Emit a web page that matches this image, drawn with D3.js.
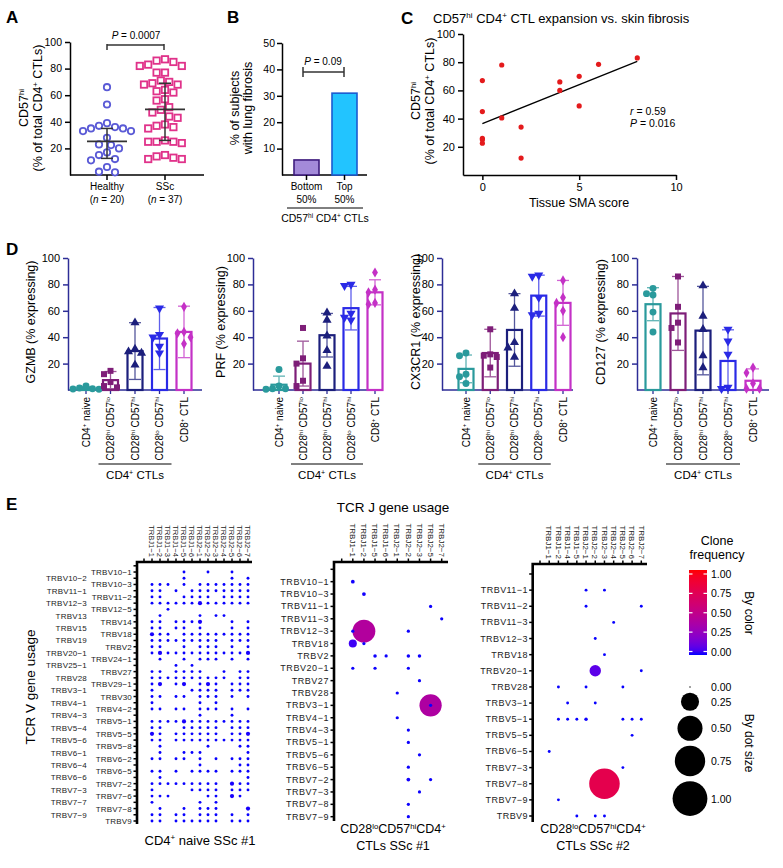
<!DOCTYPE html>
<html><head><meta charset="utf-8">
<script src="https://cdn.jsdelivr.net/npm/d3@7"></script>
<style>
body{margin:0;background:#fff}
svg{font-family:"Liberation Sans",Arial,Helvetica,sans-serif}
svg text{white-space:pre}
</style>
</head><body>
<svg id="fig" width="783" height="868"></svg>
<script>
// ================= DATA =================
// Panel A
const panelAGroups = ["Healthy", "SSc"];
const panelAN = [20, 37];
const healthyValues = [66, 53, 39, 37, 36, 35, 35, 33, 33, 28, 23, 22.5, 20, 17, 15, 12, 11, 6, 2.5, 2];
const sscValues = [87, 86, 85, 83, 82, 82, 77, 77, 71, 70, 69, 68, 68, 64, 63, 62, 57, 56, 51, 49, 47, 44, 43, 38, 37, 36, 35, 26, 25, 25, 25, 24, 15, 14, 13, 12, 12];
const panelAMedian = [25.3, 49.3];
const panelAQ1 = [12.5, 26];
const panelAQ3 = [35, 69];
const panelATicks = [20, 40, 60, 80, 100];
const panelAP = "0.0007";

// Panel B
const lungGroups = ["Bottom", "Top"];
const lungPct = [5.7, 31];
const lungTicks = [10, 20, 30, 40, 50];
const panelBP = "0.09";

// Panel C
const smaScore = [0, 0, 0, 0, 0, 1, 1, 2, 2, 4, 4, 5, 5, 6, 8];
const cd57Pct = [67, 45, 26, 25, 22.5, 78, 40.5, 34, 12, 66, 60, 70, 49, 78.5, 83];
const panelCxTicks = [0, 5, 10];
const panelCyTicks = [20, 40, 60, 80, 100];
const panelCr = "0.59", panelCP = "0.016";

// Panel D
const cellTypes = ["CD4^{+} naive", "CD28^{hi} CD57^{lo}", "CD28^{hi} CD57^{hi}", "CD28^{lo} CD57^{hi}", "CD8^{+} CTL"];
const gzmbMean = [1.5, 7.5, 29.5, 39, 44];
const gzmbSD = [1, 6.5, 21.5, 23.5, 19.5];
const gzmbPts = [[3, 1.5, 1, 0.8, 0.5], [14.5, 12, 6, 3, 2], [51, 31, 29, 28, 19], [62, 42, 40, 33, 28], [63, 44, 43, 40, 35]];
const prfMean = [4, 20, 41.5, 62, 74];
const prfSD = [6.5, 17, 16.5, 16.5, 9.5];
const prfPts = [[15.5, 3, 1, 1, 0.5], [47, 24, 20, 7, 3], [58.5, 53, 41, 30, 18], [80, 79, 58, 55, 53], [89, 76, 74, 66, 65]];
const cx3cr1Mean = [16, 28, 45.5, 71.5, 66];
const cx3cr1SD = [10.5, 18, 27.5, 15.5, 17];
const cx3cr1Pts = [[28, 26, 12, 10, 5], [46, 27, 26, 25, 17], [73, 62, 36, 32, 25], [87, 86, 70, 58, 57], [83, 70, 66, 60, 40]];
const cd127Mean = [65, 58, 45, 22, 7];
const cd127SD = [12.5, 28, 33.5, 23.6, 9];
const cd127Pts = [[77, 73, 72, 59, 44], [86, 63, 51, 47, 36], [79, 56, 46, 26, 17], [46, 37, 27, 2, 1], [17, 13, 5, 1, 1]];
const panelDTicks = [20, 40, 60, 80, 100];

// Panel E
const naiveRows = ["TRBV10-1","TRBV10-2","TRBV10-3","TRBV11-1","TRBV11-2","TRBV12-3","TRBV12-5","TRBV13","TRBV14","TRBV15","TRBV18","TRBV19","TRBV2","TRBV20-1","TRBV24-1","TRBV25-1","TRBV27","TRBV28","TRBV29-1","TRBV3-1","TRBV30","TRBV4-1","TRBV4-2","TRBV4-3","TRBV5-1","TRBV5-4","TRBV5-5","TRBV5-6","TRBV5-8","TRBV6-1","TRBV6-2","TRBV6-4","TRBV6-5","TRBV6-6","TRBV7-2","TRBV7-3","TRBV7-6","TRBV7-7","TRBV7-8","TRBV7-9","TRBV9"];
const naiveCols = ["TRBJ1-1","TRBJ1-2","TRBJ1-3","TRBJ1-4","TRBJ1-5","TRBJ1-6","TRBJ2-1","TRBJ2-2","TRBJ2-3","TRBJ2-4","TRBJ2-5","TRBJ2-6","TRBJ2-7"];
// one string per V row, one char per J column: "." none, "o" small clone, "O" larger clone
const naiveGrid = [
  "....o..o..o..",
  "....o.....o.o",
  "ooo.o.ooooooo",
  "oo.o.oooooooo",
  "oo..oooo.oooo",
  "ooooooOoooooo",
  "..o..........",
  ".o....o.oo...",
  "oo.oooO...o.o",
  "oo.oo.o...o.o",
  "Ooo.ooooooooo",
  "ooooooooo.ooo",
  "oo..o.ooo.o.o",
  "oOooooooooooO",
  ".o..o.ooo.o.o",
  "...o.o.......",
  "oo.oooo..o.oo",
  "oooooooooo.oo",
  "oO.oO.oOo.ooo",
  "o....oooo.ooo",
  "oo.oo.ooo.o.o",
  "o.....o.o....",
  "oo.oo.ooo.o.o",
  "......o...o..",
  "ooooOoooooooo",
  "oo..ooooo.ooo",
  "Oo.oooooo.ooO",
  "oo.oooooooooo",
  ".o.....o...oo",
  ".o..ooo.....o",
  "oo.oo.o.o.ooo",
  "......o....oo",
  "oo.o.oooo.ooo",
  ".o..........o",
  "ooooooooo.Ooo",
  "o....oooo.ooo",
  "ooo....oo.Oo.",
  "o.....o.o....",
  ".o..o.ooo...O",
  "oo.oo.ooo.o.o",
  "oo.oooooo.ooo"
];
const naiveSmallFreq = 0.002, naiveLargeFreq = 0.007;

const ssc1Rows = ["TRBV10-1","TRBV10-3","TRBV11-1","TRBV11-3","TRBV12-3","TRBV18","TRBV2","TRBV20-1","TRBV27","TRBV28","TRBV3-1","TRBV4-1","TRBV4-3","TRBV5-1","TRBV5-6","TRBV6-5","TRBV7-2","TRBV7-3","TRBV7-8","TRBV7-9"];
const ssc1Cols = ["TRBJ1-1","TRBJ1-2","TRBJ1-5","TRBJ1-6","TRBJ2-1","TRBJ2-2","TRBJ2-3","TRBJ2-5","TRBJ2-7"];
const ssc1Clones = [
  ["TRBV10-1","TRBJ1-1",0.005],["TRBV10-3","TRBJ1-2",0.005],["TRBV11-1","TRBJ2-5",0.003],["TRBV11-3","TRBJ2-7",0.003],
  ["TRBV12-3","TRBJ1-1",0.003],["TRBV12-3","TRBJ1-2",0.41],["TRBV12-3","TRBJ2-2",0.003],
  ["TRBV18","TRBJ1-1",0.04],["TRBV18","TRBJ1-2",0.003],
  ["TRBV2","TRBJ1-5",0.004],["TRBV2","TRBJ1-6",0.003],["TRBV2","TRBJ2-2",0.004],["TRBV2","TRBJ2-3",0.004],
  ["TRBV20-1","TRBJ1-1",0.003],["TRBV20-1","TRBJ1-5",0.003],["TRBV20-1","TRBJ2-2",0.003],
  ["TRBV27","TRBJ2-3",0.003],["TRBV28","TRBJ2-1",0.003],
  ["TRBV3-1","TRBJ2-5",0.39],["TRBV3-1","TRBJ2-5",0.003],
  ["TRBV4-1","TRBJ2-1",0.003],["TRBV4-3","TRBJ2-2",0.003],["TRBV5-1","TRBJ2-2",0.003],["TRBV5-6","TRBJ2-3",0.003],
  ["TRBV6-5","TRBJ2-2",0.003],["TRBV7-2","TRBJ2-2",0.005],["TRBV7-2","TRBJ2-5",0.003],["TRBV7-3","TRBJ2-3",0.003],
  ["TRBV7-8","TRBJ2-2",0.003],["TRBV7-9","TRBJ2-2",0.003]
];

const ssc2Rows = ["TRBV11-1","TRBV11-2","TRBV11-3","TRBV12-3","TRBV18","TRBV20-1","TRBV28","TRBV3-1","TRBV5-1","TRBV5-5","TRBV6-5","TRBV7-3","TRBV7-8","TRBV7-9","TRBV9"];
const ssc2Cols = ["TRBJ1-1","TRBJ1-2","TRBJ1-4","TRBJ1-5","TRBJ2-1","TRBJ2-2","TRBJ2-3","TRBJ2-4","TRBJ2-5","TRBJ2-6","TRBJ2-7"];
const ssc2Clones = [
  ["TRBV11-1","TRBJ2-1",0.002],["TRBV11-1","TRBJ2-3",0.002],["TRBV11-2","TRBJ2-1",0.002],["TRBV11-2","TRBJ2-7",0.002],
  ["TRBV11-3","TRBJ2-4",0.002],["TRBV12-3","TRBJ2-2",0.002],["TRBV18","TRBJ2-3",0.002],
  ["TRBV20-1","TRBJ2-2",0.09],["TRBV20-1","TRBJ2-7",0.002],
  ["TRBV28","TRBJ1-2",0.002],["TRBV28","TRBJ2-1",0.002],["TRBV28","TRBJ2-5",0.002],
  ["TRBV3-1","TRBJ1-4",0.002],["TRBV3-1","TRBJ2-2",0.002],
  ["TRBV5-1","TRBJ1-2",0.002],["TRBV5-1","TRBJ1-4",0.002],["TRBV5-1","TRBJ1-5",0.002],["TRBV5-1","TRBJ2-1",0.004],
  ["TRBV5-1","TRBJ2-5",0.002],["TRBV5-1","TRBJ2-6",0.002],["TRBV5-1","TRBJ2-7",0.002],
  ["TRBV5-5","TRBJ2-6",0.002],["TRBV6-5","TRBJ1-1",0.002],["TRBV7-3","TRBJ2-5",0.002],
  ["TRBV7-8","TRBJ2-3",0.76],["TRBV7-9","TRBJ1-2",0.002],
  ["TRBV9","TRBJ1-5",0.002],["TRBV9","TRBJ2-2",0.002],["TRBV9","TRBJ2-3",0.002]
];
const legendBreaks = [0, 0.25, 0.5, 0.75, 1];

// ================= HELPERS =================
const svg = d3.select("#fig");

function rich(sel, str, size) {
  const parts = str.split(/(\^\{[^}]*\}|\*\{[^}]*\})/).filter(s => s !== "");
  const up = size * 0.36;
  let raised = 0;
  parts.forEach(p => {
    const t = sel.append("tspan");
    if (p.startsWith("^{")) {
      t.attr("font-size", size * 0.62).text(p.slice(2, -1));
      if (!raised) t.attr("dy", -up);
      raised = up;
    } else {
      if (raised) { t.attr("dy", raised); raised = 0; }
      if (p.startsWith("*{")) t.attr("font-style", "italic").text(p.slice(2, -1));
      else t.text(p);
    }
  });
  return sel;
}
function txt(g, x, y, str, size, o = {}) {
  const t = g.append("text").attr("font-size", size).attr("text-anchor", o.anchor || "middle")
    .attr("transform", `translate(${x},${y})` + (o.rot ? ` rotate(${o.rot})` : ""));
  if (o.bold) t.attr("font-weight", "bold");
  if (o.fill) t.attr("fill", o.fill);
  if (o.ls) t.attr("letter-spacing", o.ls);
  rich(t, str, size);
  return t;
}
function line(g, x1, y1, x2, y2, color = "#000", w = 1.3) {
  return g.append("line").attr("x1", x1).attr("y1", y1).attr("x2", x2).attr("y2", y2)
    .attr("stroke", color).attr("stroke-width", w);
}
function styleAxis(g, size, color = "#000", width = 1.3) {
  g.attr("font-size", size).attr("font-family", null);
  g.select(".domain").attr("stroke", color).attr("stroke-width", width);
  g.selectAll(".tick line").attr("stroke", color).attr("stroke-width", width);
  g.selectAll(".tick text").attr("fill", "#000");
}
function swarm(vals, y, d) {
  const placed = [];
  return vals.map(v => {
    const p = { v, y: y(v), dx: 0 };
    for (let k = 0; k < 80; k++) {
      const off = (k % 2 === 1 ? -1 : 1) * Math.ceil(k / 2) * d / 2;
      if (placed.every(q => Math.hypot(q.dx - off, q.y - p.y) >= d)) { p.dx = off; break; }
    }
    placed.push(p);
    return p;
  });
}

// ================= PANEL A =================
{
  const g = svg.append("g");
  txt(g, 6, 23, "A", 17, { anchor: "start", bold: true });
  const y = d3.scaleLinear([0, 100], [175, 42]);
  const x = d3.scalePoint(panelAGroups, [107, 165]);
  g.append("g").attr("transform", "translate(70,0)")
    .call(d3.axisLeft(y).tickValues(panelATicks).tickSize(5).tickSizeOuter(0).tickPadding(3))
    .call(a => styleAxis(a, 10.5, "#000", 1.5));
  line(g, 70, 175, 204, 175, "#000", 1.5);
  panelAGroups.forEach((grp, i) => {
    line(g, x(grp), 175, x(grp), 180, "#000", 1.5);
    txt(g, x(grp), 190, grp, 10);
    txt(g, x(grp), 203, `(*{n} = ${panelAN[i]})`, 10);
  });
  txt(g, 28, 108, "CD57^{hi}", 12.5, { rot: -90 });
  txt(g, 42, 108, "(% of total CD4^{+} CTLs)", 12.5, { rot: -90 });

  const hc = "#5a5ad6", sc = "#e0328a";
  swarm(healthyValues, y, 8).forEach(p => {
    g.append("circle").attr("cx", x("Healthy") + p.dx).attr("cy", p.y).attr("r", 3.2)
      .attr("fill", "#fff").attr("stroke", hc).attr("stroke-width", 1.8);
  });
  swarm(sscValues, y, 8.4).forEach(p => {
    g.append("rect").attr("x", x("SSc") + p.dx - 3.2).attr("y", p.y - 3.2).attr("width", 6.4).attr("height", 6.4)
      .attr("fill", "#fff").attr("stroke", sc).attr("stroke-width", 1.8);
  });
  panelAGroups.forEach((grp, i) => {
    const cx = x(grp);
    line(g, cx - 20, y(panelAMedian[i]), cx + 20, y(panelAMedian[i]), "#333", 1.8);
    line(g, cx, y(panelAQ1[i]), cx, y(panelAQ3[i]), "#333", 1.5);
    line(g, cx - 6, y(panelAQ1[i]), cx + 6, y(panelAQ1[i]), "#333", 1.5);
    line(g, cx - 6, y(panelAQ3[i]), cx + 6, y(panelAQ3[i]), "#333", 1.5);
  });
  line(g, x("Healthy"), 45, x("SSc") - 1, 45, "#333", 1.5);
  line(g, x("Healthy"), 44, x("Healthy"), 50, "#333", 1.5);
  line(g, x("SSc") - 1, 44, x("SSc") - 1, 50, "#333", 1.5);
  txt(g, 136, 39, `*{P} = ${panelAP}`, 10);
}

// ================= PANEL B =================
{
  const g = svg.append("g");
  txt(g, 227, 23, "B", 17, { anchor: "start", bold: true });
  const y = d3.scaleLinear([0, 50], [175, 43]);
  const x = d3.scalePoint(lungGroups, [306.5, 344.5]);
  g.append("g").attr("transform", "translate(282,0)")
    .call(d3.axisLeft(y).tickValues(lungTicks).tickSize(5).tickSizeOuter(0).tickPadding(2))
    .call(a => styleAxis(a, 10.5, "#000", 1.5));
  line(g, 282, 175, 367, 175, "#000", 1.5);
  const fills = ["#a38ad9", "#22c4ff"], strokes = ["#3e1c7e", "#1b5bd0"];
  lungGroups.forEach((grp, i) => {
    g.append("rect").attr("x", x(grp) - 12.5).attr("y", y(lungPct[i])).attr("width", 25)
      .attr("height", y(0) - y(lungPct[i])).attr("fill", fills[i]).attr("stroke", strokes[i]).attr("stroke-width", 1.6);
    line(g, x(grp), 175, x(grp), 180, "#000", 1.5);
    txt(g, x(grp), 190, grp, 10);
    txt(g, x(grp), 203, "50%", 10);
  });
  line(g, 287, 208, 363, 208, "#000", 1);
  txt(g, 325, 222, "CD57^{hi} CD4^{+} CTLs", 10.5);
  txt(g, 239, 108, "% of subjects", 12.5, { rot: -90 });
  txt(g, 252, 108, "with lung fibrosis", 12.5, { rot: -90 });
  line(g, 303, 72, 344, 72, "#333", 1.5);
  line(g, 303, 67, 303, 77, "#333", 1.5);
  line(g, 344, 67, 344, 77, "#333", 1.5);
  txt(g, 323, 65, `*{P} = ${panelBP}`, 10);
}

// ================= PANEL C =================
{
  const g = svg.append("g");
  txt(g, 401, 24, "C", 17, { anchor: "start", bold: true });
  txt(g, 433, 23, "CD57^{hi} CD4^{+} CTL expansion vs. skin fibrosis", 13, { anchor: "start" });
  const x = d3.scaleLinear([-1, 10], [463, 676]);
  const y = d3.scaleLinear([0, 100], [175, 34]);
  g.append("g").attr("transform", "translate(463,0)")
    .call(d3.axisLeft(y).tickValues(panelCyTicks).tickSize(5).tickSizeOuter(0).tickPadding(3))
    .call(a => styleAxis(a, 11, "#000", 1.5));
  g.append("g").attr("transform", "translate(0,175)")
    .call(d3.axisBottom(x).tickValues(panelCxTicks).tickSize(5).tickSizeOuter(0).tickPadding(3))
    .call(a => styleAxis(a, 11, "#000", 1.5));
  txt(g, 579, 207, "Tissue SMA score", 12.5);
  txt(g, 420, 101, "CD57^{hi}", 12.5, { rot: -90 });
  txt(g, 434, 101, "(% of total CD4^{+} CTLs)", 12.5, { rot: -90 });
  // least-squares fit
  const mx = d3.mean(smaScore), my = d3.mean(cd57Pct);
  const sxy = d3.sum(smaScore, (v, i) => (v - mx) * (cd57Pct[i] - my));
  const sxx = d3.sum(smaScore, v => (v - mx) ** 2);
  const slope = sxy / sxx, icpt = my - slope * mx;
  const [x0, x1] = d3.extent(smaScore);
  line(g, x(x0), y(icpt + slope * x0), x(x1), y(icpt + slope * x1), "#000", 1.3);
  smaScore.forEach((s, i) => g.append("circle").attr("cx", x(s)).attr("cy", y(cd57Pct[i])).attr("r", 2.6).attr("fill", "#e41a1c"));
  txt(g, 630, 115, `*{r} = ${panelCr}`, 10.5, { anchor: "start" });
  txt(g, 630, 127, `*{P} = ${panelCP}`, 10.5, { anchor: "start" });
}

// ================= PANEL D =================
{
  const g = svg.append("g");
  txt(g, 6, 255, "D", 17, { anchor: "start", bold: true });
  const y = d3.scaleLinear([0, 100], [390, 258]);
  const colors = ["#2a9a9c", "#7e1e78", "#1c1f7c", "#2a2ae6", "#c431c6"];
  const symbols = [d3.symbolCircle, d3.symbolSquare, d3.symbolTriangle, d3.symbolTriangle, d3.symbolDiamond];
  const symRot = [0, 0, 0, 180, 0];
  const symSize = [38, 36, 36, 36, 30];
  const axisColor = "#2d2d96";
  const panels = [
    { title: "GZMB (% expressing)", mean: gzmbMean, sd: gzmbSD, pts: gzmbPts, ax: 68, c0: 86, c1: 184, end: 202, tx: 35 },
    { title: "PRF (% expressing)", mean: prfMean, sd: prfSD, pts: prfPts, ax: 253, c0: 279, c1: 375, end: 380, tx: 225 },
    { title: "CX3CR1 (% expressing)", mean: cx3cr1Mean, sd: cx3cr1SD, pts: cx3cr1Pts, ax: 442, c0: 466, c1: 563, end: 573, tx: 420 },
    { title: "CD127 (% expressing)", mean: cd127Mean, sd: cd127SD, pts: cd127Pts, ax: 637, c0: 653, c1: 753, end: 769, tx: 605 }
  ];
  panels.forEach(P => {
    const x = d3.scalePoint(cellTypes, [P.c0, P.c1]);
    g.append("g").attr("transform", `translate(${P.ax},0)`)
      .call(d3.axisLeft(y).tickValues(panelDTicks).tickSize(5).tickSizeOuter(0).tickPadding(3))
      .call(a => styleAxis(a, 11, axisColor, 1.5));
    line(g, P.ax, 390, P.end, 390, axisColor, 1.5);
    txt(g, P.tx, 322, P.title, 12.5, { rot: -90 });
    cellTypes.forEach((ct, i) => {
      const cx = x(ct), col = colors[i];
      line(g, cx, 390, cx, 394, axisColor, 1.3);
      g.append("rect").attr("x", cx - 7.5).attr("y", y(P.mean[i])).attr("width", 15)
        .attr("height", Math.max(0.5, y(0) - y(P.mean[i]))).attr("fill", "#fff")
        .attr("stroke", col).attr("stroke-width", 2.2);
      const hi = P.mean[i] + P.sd[i], lo = Math.max(0, P.mean[i] - P.sd[i]);
      const eg = g.append("g").attr("opacity", 0.75);
      line(eg, cx, y(lo), cx, y(hi), col, 1.3);
      line(eg, cx - 6, y(hi), cx + 6, y(hi), col, 1.3);
      if (lo > 0) line(eg, cx - 6, y(lo), cx + 6, y(lo), col, 1.3);
      swarm(P.pts[i], y, 6.5).forEach(p => {
        g.append("path").attr("d", d3.symbol(symbols[i], symSize[i])())
          .attr("transform", `translate(${cx + p.dx},${p.y}) rotate(${symRot[i]})`).attr("fill", col);
      });
      txt(g, cx + 3.5, 397, ct, 10, { rot: -90, anchor: "end" });
    });
    line(g, x(cellTypes[1]) - 12, 464, x(cellTypes[3]) + 12, 464, "#000", 1);
    txt(g, x(cellTypes[2]), 479, "CD4^{+} CTLs", 11.5);
  });
}

// ================= PANEL E =================
{
  const g = svg.append("g");
  txt(g, 6, 510, "E", 17, { anchor: "start", bold: true });
  const size = d3.scaleSqrt([0, 1], [0.7, 17.4]);
  const color = t => d3.interpolateLab("#0000ff", "#ff0000")(Math.max(0, Math.min(1, t)));
  const minus = s => s.replace("-", "\u2212");

  const naiveClones = [];
  naiveGrid.forEach((row, i) => [...row].forEach((ch, j) => {
    if (ch !== ".") naiveClones.push([naiveRows[i], naiveCols[j], ch === "O" ? naiveLargeFreq : naiveSmallFreq]);
  }));

  const mats = [
    { rows: naiveRows, cols: naiveCols, clones: naiveClones, left: 137, right: 252, top: 562, bottom: 824,
      x0: 144, x1: 248, y0: 565.8, y1: 821, rowFs: 8, rowLs: 0.2, lab1: 132, lab2: 87, colFs: 7.6 },
    { rows: ssc1Rows, cols: ssc1Cols, clones: ssc1Clones, left: 334, right: 448, top: 562, bottom: 821,
      x0: 341.7, x1: 441.7, y0: 569.3, y1: 816.7, rowFs: 9, rowLs: 0.55, lab1: 329, colFs: 8 },
    { rows: ssc2Rows, cols: ssc2Cols, clones: ssc2Clones, left: 532.7, right: 647, top: 564, bottom: 822,
      x0: 540, x1: 641.3, y0: 574, y1: 816, rowFs: 9, rowLs: 0.45, lab1: 528, colFs: 8 }
  ];
  mats.forEach(M => {
    const x = d3.scalePoint(["", ...M.cols], [M.x0, M.x1]);
    const y = d3.scalePoint(["", ...M.rows], [M.y0, M.y1]);
    y.domain().forEach(r => line(g, M.left, y(r), M.left - 3.5, y(r), "#000", 1.5));
    x.domain().forEach(c => line(g, x(c), M.top, x(c), M.top - 3.5, "#000", 1.5));
    g.append("path").attr("d", `M${M.left},${M.bottom}V${M.top}H${M.right}`)
      .attr("fill", "none").attr("stroke", "#000").attr("stroke-width", 2.6);
    M.rows.forEach((r, i) => {
      const lx = (M.lab2 !== undefined && i % 2 === 1) ? M.lab2 : M.lab1;
      txt(g, lx, y(r) + 3, minus(r), M.rowFs, { anchor: "end", ls: M.rowLs, fill: "#222" });
    });
    M.cols.forEach(c => txt(g, x(c) - 2.8, M.top - 5, minus(c), M.colFs, { rot: 90, anchor: "end", fill: "#222" }));
    M.clones.slice().sort((a, b) => b[2] - a[2]).forEach(c => {
      g.append("circle").attr("cx", x(c[1])).attr("cy", y(c[0])).attr("r", size(c[2])).attr("fill", color(c[2]));
    });
  });

  txt(g, 393, 512, "TCR J gene usage", 13.5);
  txt(g, 35, 687, "TCR V gene usage", 13.5, { rot: -90 });
  txt(g, 200, 845, "CD4^{+} naive SSc #1", 13);
  txt(g, 393, 833, "CD28^{lo}CD57^{hi}CD4^{+}", 12.5);
  txt(g, 393, 850, "CTLs SSc #1", 12.5);
  txt(g, 593, 833, "CD28^{lo}CD57^{hi}CD4^{+}", 12.5);
  txt(g, 593, 850, "CTLs SSc #2", 12.5);

  // colour legend
  const defs = svg.append("defs");
  const grad = defs.append("linearGradient").attr("id", "cgrad").attr("x1", 0).attr("y1", 1).attr("x2", 0).attr("y2", 0);
  d3.range(0, 1.0001, 0.05).forEach(t => grad.append("stop").attr("offset", t).attr("stop-color", color(t)));
  txt(g, 717, 545, "Clone", 12.5);
  txt(g, 717, 559, "frequency", 12.5);
  const cb = d3.scaleLinear([0, 1], [651.5, 574]);
  g.append("rect").attr("x", 689).attr("y", 570).attr("width", 18).attr("height", 85).attr("fill", "url(#cgrad)");
  legendBreaks.forEach(b => {
    line(g, 689, cb(b), 692.5, cb(b), "#fff", 1.2);
    line(g, 703.5, cb(b), 707, cb(b), "#fff", 1.2);
    txt(g, 711, cb(b) + 4, b.toFixed(2), 10.5, { anchor: "start" });
  });
  txt(g, 745, 613, "By color", 12, { rot: 90 });
  // size legend
  let cy = 687;
  legendBreaks.forEach((b, i) => {
    if (i > 0) cy += size(legendBreaks[i - 1]) + size(b) + 5;
    g.append("circle").attr("cx", 690).attr("cy", cy).attr("r", size(b)).attr("fill", "#000");
    txt(g, 711, cy + 4, b.toFixed(2), 10.5, { anchor: "start" });
  });
  txt(g, 745, 743, "By dot size", 12, { rot: 90 });
}
</script>
</body></html>
